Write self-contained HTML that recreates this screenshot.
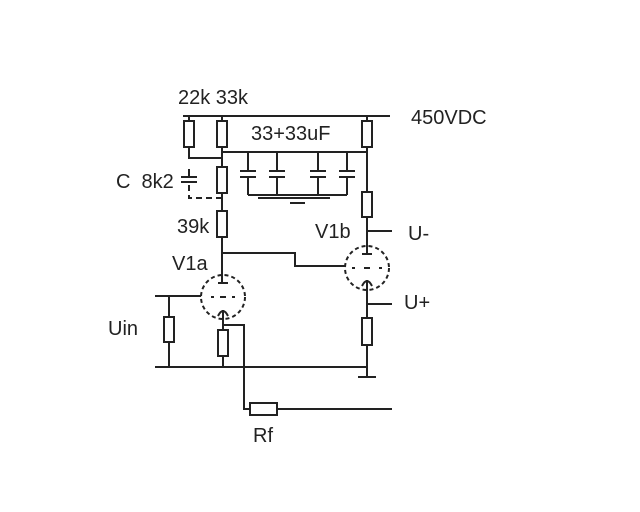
<!DOCTYPE html>
<html><head><style>
html,body{margin:0;padding:0;background:#fff;}
svg{display:block}
text{font-family:"Liberation Sans",sans-serif;font-size:20px;fill:#222}
</style></head><body>
<svg width="640" height="512" viewBox="0 0 640 512" xmlns="http://www.w3.org/2000/svg">
<g stroke="#222" stroke-width="2" fill="none">
<line x1="183" y1="116" x2="390" y2="116"/>
<line x1="189" y1="116" x2="189" y2="121"/>
<rect x="184" y="121" width="10" height="26" fill="#fff"/>
<polyline points="189,147 189,158 222,158"/>
<line x1="222" y1="116" x2="222" y2="121"/>
<rect x="217" y="121" width="10" height="26" fill="#fff"/>
<line x1="222" y1="147" x2="222" y2="167"/>
<line x1="222" y1="152" x2="367" y2="152"/>
<rect x="217" y="167" width="10" height="26" fill="#fff"/>
<line x1="222" y1="193" x2="222" y2="211"/>
<rect x="217" y="211" width="10" height="26" fill="#fff"/>
<line x1="222" y1="237" x2="222" y2="283"/>
<polyline points="222,253 295,253 295,266 345,266"/>
<g>
<line x1="248" y1="152" x2="248" y2="171"/><line x1="240" y1="171" x2="256" y2="171"/><line x1="240" y1="177" x2="256" y2="177"/><line x1="248" y1="177" x2="248" y2="195"/>
<line x1="277" y1="152" x2="277" y2="171"/><line x1="269" y1="171" x2="285" y2="171"/><line x1="269" y1="177" x2="285" y2="177"/><line x1="277" y1="177" x2="277" y2="195"/>
<line x1="318" y1="152" x2="318" y2="171"/><line x1="310" y1="171" x2="326" y2="171"/><line x1="310" y1="177" x2="326" y2="177"/><line x1="318" y1="177" x2="318" y2="195"/>
<line x1="347" y1="152" x2="347" y2="171"/><line x1="339" y1="171" x2="355" y2="171"/><line x1="339" y1="177" x2="355" y2="177"/><line x1="347" y1="177" x2="347" y2="195"/>
<line x1="248" y1="195" x2="347" y2="195"/>
<line x1="258" y1="198" x2="330" y2="198"/>
<line x1="290" y1="203" x2="305" y2="203"/>
</g>
<line x1="181" y1="177" x2="197" y2="177"/><line x1="181" y1="182" x2="197" y2="182"/>
<line x1="189" y1="169" x2="189" y2="177"/>
<polyline points="189,185 189,198 222,198" stroke-dasharray="6,4"/>
<line x1="367" y1="116" x2="367" y2="121"/>
<rect x="362" y="121" width="10" height="26" fill="#fff"/>
<line x1="367" y1="147" x2="367" y2="192"/>
<rect x="362" y="192" width="10" height="25" fill="#fff"/>
<line x1="367" y1="217" x2="367" y2="254"/>
<line x1="367" y1="231" x2="392" y2="231"/>
<circle cx="367" cy="268" r="22" stroke-dasharray="4,3"/>
<line x1="362" y1="254" x2="372" y2="254"/>
<line x1="352" y1="268" x2="355" y2="268"/><line x1="364" y1="268" x2="370" y2="268"/><line x1="379" y1="268" x2="382" y2="268"/>
<path d="M362,286 Q367,276 372,286"/>
<line x1="367" y1="280" x2="367" y2="318"/>
<line x1="367" y1="304" x2="392" y2="304"/>
<rect x="362" y="318" width="10" height="27" fill="#fff"/>
<line x1="367" y1="345" x2="367" y2="377"/>
<line x1="358" y1="377" x2="376" y2="377"/>
<circle cx="223" cy="297" r="22" stroke-dasharray="4,3"/>
<line x1="218" y1="283" x2="228" y2="283"/>
<line x1="211" y1="297" x2="214" y2="297"/><line x1="220" y1="297" x2="226" y2="297"/><line x1="232" y1="297" x2="235" y2="297"/>
<path d="M218,316 Q223,306 228,316"/>
<line x1="223" y1="310" x2="223" y2="330"/>
<line x1="155" y1="296" x2="201" y2="296"/>
<line x1="169" y1="296" x2="169" y2="317"/>
<rect x="164" y="317" width="10" height="25" fill="#fff"/>
<line x1="169" y1="342" x2="169" y2="367"/>
<rect x="218" y="330" width="10" height="26" fill="#fff"/>
<line x1="223" y1="356" x2="223" y2="367"/>
<line x1="155" y1="367" x2="367" y2="367"/>
<polyline points="223,325 244,325 244,409 250,409"/>
<rect x="250" y="403" width="27" height="12" fill="#fff"/>
<line x1="277" y1="409" x2="392" y2="409"/>
</g>
<text x="178" y="104">22k 33k</text>
<text x="411" y="124">450VDC</text>
<text x="251" y="140">33+33uF</text>
<text x="116" y="188">C&#160; 8k2</text>
<text x="177" y="233">39k</text>
<text x="315" y="238">V1b</text>
<text x="408" y="240">U-</text>
<text x="172" y="270">V1a</text>
<text x="404" y="309">U+</text>
<text x="108" y="335">Uin</text>
<text x="253" y="442">Rf</text>
</svg>
</body></html>
